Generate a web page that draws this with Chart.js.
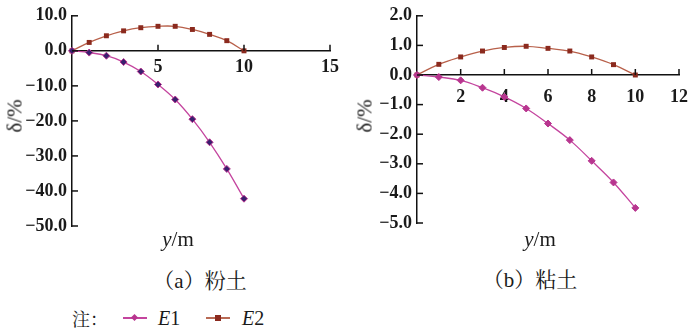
<!DOCTYPE html>
<html>
<head>
<meta charset="utf-8">
<script src="https://cdn.jsdelivr.net/npm/chart.js@4.4.0/dist/chart.umd.min.js"></script>
<style>
  html, body { margin: 0; padding: 0; background: #fff; }
  body { width: 700px; height: 331px; position: relative; overflow: hidden; font-family: "Liberation Serif", serif; color: #1a1a1a; }
  .cv { position: absolute; top: 0; }
  .txt { position: absolute; white-space: nowrap; line-height: 1; }
  .ylab { font-size: 21px; transform: translate(-50%, -50%) rotate(-90deg); }
  .xlab { font-size: 21px; transform: translate(-50%, -50%); }
  .cap { font-size: 21px; font-family: "Liberation Serif", "Noto Serif CJK SC", serif; transform: translate(-50%, -50%); }
  .leg { font-size: 20px; transform: translateY(-50%); }
  .line { position: absolute; height: 1.5px; width: 24px; }
  .mk { position: absolute; width: 6px; height: 6px; }
</style>
</head>
<body>
<canvas id="c1" class="cv" style="left:0px" width="345" height="250"></canvas>
<canvas id="c2" class="cv" style="left:345px" width="355" height="250"></canvas>

<div class="txt ylab" style="left:15px; top:116px;">δ/%</div>
<div class="txt ylab" style="left:365px; top:116px;">δ/%</div>
<div class="txt xlab" style="left:178px; top:239px;"><i>y</i>/m</div>
<div class="txt xlab" style="left:540px; top:239px;"><i>y</i>/m</div>
<div class="txt cap" style="left:200px; top:281px;">（a）粉土</div>
<div class="txt cap" style="left:530px; top:280px;">（b）粘土</div>

<div class="txt leg" style="left:72px; top:318px; font-family:'Noto Serif CJK SC'; font-size:18px;">注：</div>
<div class="line" style="left:123px; top:317px; background:#c4449e;"></div>
<div class="mk" style="left:132px; top:315px; background:#b8358f; transform:rotate(45deg); width:5px; height:5px;"></div>
<div class="txt leg" style="left:158px; top:318px;"><i>E</i>1</div>
<div class="line" style="left:206px; top:317px; background:#b86a55;"></div>
<div class="mk" style="left:215px; top:315px; background:#8b2a1e;"></div>
<div class="txt leg" style="left:242px; top:318px;"><i>E</i>2</div>

<script>
// depth y (m)
const depth = [0, 1, 2, 3, 4, 5, 6, 7, 8, 9, 10];
// (a) silt
const siltE1 = [0, -0.5, -1.4, -3.2, -5.9, -9.6, -13.9, -19.5, -26.1, -33.7, -42.2];
const siltE2 = [0, 2.4, 4.3, 5.7, 6.6, 7.0, 7.0, 6.1, 4.7, 2.9, 0];
// (b) clay
const clayE1 = [0, -0.07, -0.18, -0.43, -0.74, -1.13, -1.64, -2.2, -2.9, -3.63, -4.49];
const clayE2 = [0, 0.36, 0.61, 0.81, 0.93, 0.97, 0.9, 0.81, 0.61, 0.35, 0];
// axis ranges / tick steps
const siltX = { min: 0, max: 15, step: 5 };
const siltY = { min: -50, max: 10, step: 10 };
const clayX = { min: 0, max: 12, step: 2 };
const clayY = { min: -5, max: 2, step: 1 };

const FONT = 'Liberation Serif';
const fmt = v => (v < 0 ? '\u2212' + Math.abs(v).toFixed(1) : v.toFixed(1));
const pts = (ys) => depth.map((d, i) => ({ x: d, y: ys[i] }));

const inwardTicks = {
  id: 'inwardTicks',
  afterDraw(chart) {
    const ctx = chart.ctx, xs = chart.scales.x, ys = chart.scales.y;
    ctx.save();
    ctx.strokeStyle = '#111';
    ctx.lineWidth = 1.5;
    ys.ticks.forEach(t => {
      const p = ys.getPixelForValue(t.value);
      ctx.beginPath(); ctx.moveTo(chart.chartArea.left, p); ctx.lineTo(chart.chartArea.left + 6, p); ctx.stroke();
    });
    const y0 = ys.getPixelForValue(0);
    xs.ticks.forEach(t => {
      if (t.value === 0) return;
      const p = xs.getPixelForValue(t.value);
      ctx.beginPath(); ctx.moveTo(p, y0); ctx.lineTo(p, y0 - 6); ctx.stroke();
    });
    ctx.restore();
  }
};

function makeChart(id, e1, e2, xr, yr, pad, xPad, e1Point) {
  return new Chart(document.getElementById(id), {
    type: 'scatter',
    data: {
      datasets: [
        { label: 'E1', data: pts(e1), showLine: true, tension: 0.4, borderColor: '#c4449e', borderWidth: 1.3,
          pointStyle: 'rectRot', pointRadius: 3.5, pointBackgroundColor: e1Point, pointBorderColor: '#b8358f', pointBorderWidth: 1, clip: false },
        { label: 'E2', data: pts(e2), showLine: true, tension: 0.4, borderColor: '#b8604a', borderWidth: 1.3,
          pointStyle: 'rect', pointRadius: 3.5, pointBackgroundColor: '#8b2a1e', pointBorderColor: '#8b2a1e', pointBorderWidth: 0, clip: false }
      ]
    },
    options: {
      responsive: false, animation: false, devicePixelRatio: 1,
      layout: { padding: pad },
      plugins: { legend: { display: false }, tooltip: { enabled: false } },
      scales: {
        x: {
          type: 'linear', min: xr.min, max: xr.max, position: { y: 0 },
          grid: { display: false, drawTicks: false },
          border: { display: true, color: '#111', width: 1.5 },
          ticks: { stepSize: xr.step, autoSkip: false, padding: xPad, color: '#1a1a1a',
                   font: { family: FONT, size: 18, weight: 'bold' },
                   callback: v => (v === 0 ? '' : String(v)) }
        },
        y: {
          type: 'linear', min: yr.min, max: yr.max, position: 'left',
          grid: { display: false, drawTicks: false },
          border: { display: true, color: '#111', width: 1.5 },
          ticks: { stepSize: yr.step, autoSkip: false, padding: 5, color: '#1a1a1a',
                   font: { family: FONT, size: 18, weight: 'bold' }, callback: v => fmt(v) },
          afterFit: s => { s.width = 72; }
        }
      }
    },
    plugins: [inwardTicks]
  });
}

function build() {
  makeChart('c1', siltE1, siltE2, siltX, siltY, { top: 15, bottom: 24, left: 0, right: 12 }, 6, '#3a1f6e');
  makeChart('c2', clayE1, clayE2, clayX, clayY, { top: 15, bottom: 27, left: 0, right: 17 }, 12, '#b8358f');
}
Promise.all([
  document.fonts.load('bold 18px "Liberation Serif"'),
  document.fonts.load('18px "Liberation Serif"')
]).then(build, build);
</script>
</body>
</html>
